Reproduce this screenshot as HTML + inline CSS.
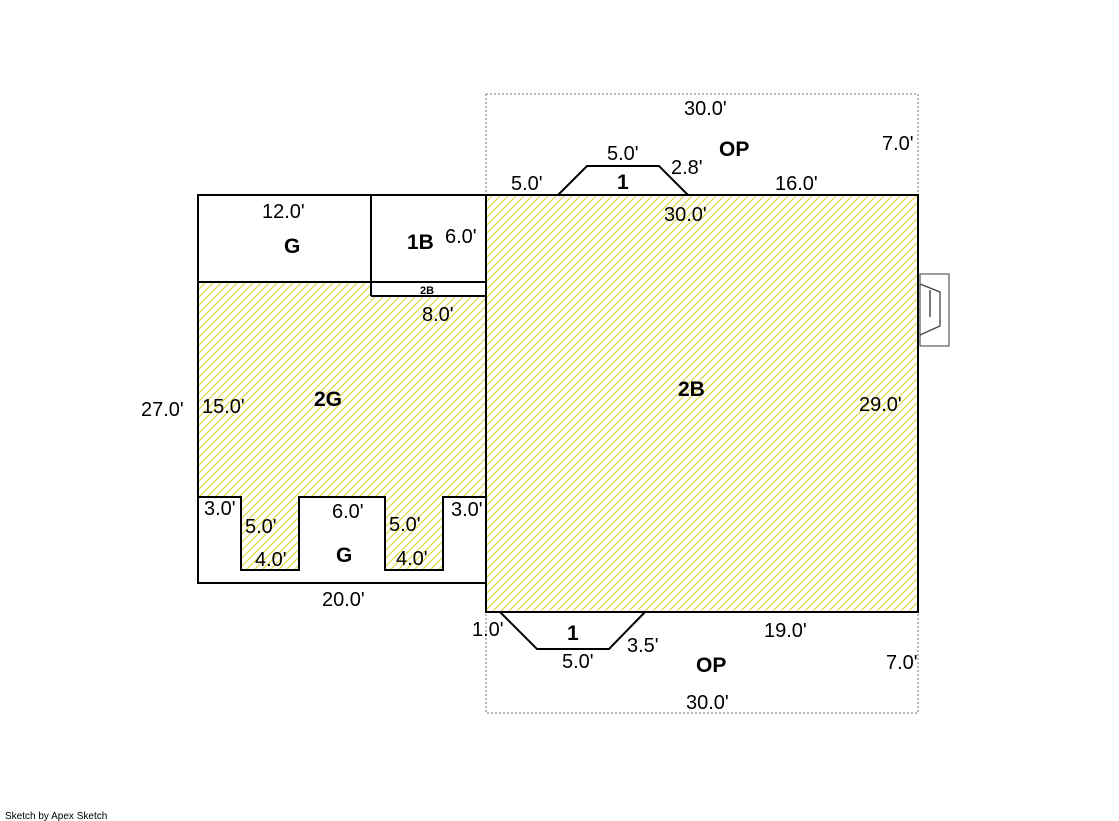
<!DOCTYPE html>
<html><head><meta charset="utf-8"><style>
html,body{margin:0;padding:0;background:#fff;}
svg{display:block;font-family:"Liberation Sans",Arial,sans-serif;}
</style></head><body>
<svg width="1119" height="821" viewBox="0 0 1119 821" xmlns="http://www.w3.org/2000/svg">
<defs>
<pattern id="h" patternUnits="userSpaceOnUse" width="8" height="8">
<path d="M-1,9 L9,-1 M-1,1 L1,-1 M7,9 L9,7" stroke="#e4d84e" stroke-width="1.3" fill="none"/>
</pattern>
</defs>
<rect x="486" y="94" width="432" height="619" fill="none" stroke="#777" stroke-width="1" stroke-dasharray="2,2"/>
<rect x="486" y="195" width="432" height="417" fill="url(#h)"/>
<polygon points="198,282 371,282 371,296 486,296 486,497 443,497 443,570 385,570 385,497 299,497 299,570 241,570 241,497 198,497" fill="url(#h)"/>
<g fill="none" stroke="#000" stroke-width="2">
<rect x="486" y="195" width="432" height="417"/>
<polyline points="486,195 198,195 198,583 486,583"/>
<line x1="198" y1="282" x2="486" y2="282"/>
<line x1="371" y1="195" x2="371" y2="296"/>
<line x1="371" y1="296" x2="486" y2="296"/>
<polyline points="198,497 241,497 241,570 299,570 299,497 385,497 385,570 443,570 443,497 486,497"/>
<polyline points="558,195 587,166 659,166 688,195"/>
<polyline points="500,612 537,649 609,649 645,612"/>
</g>
<rect x="920" y="274" width="29" height="72" fill="none" stroke="#666" stroke-width="1.3"/>
<polyline points="920,284 940,292 940,326 920,335" fill="none" stroke="#444" stroke-width="1.3"/>
<line x1="930" y1="290" x2="930" y2="317" stroke="#333" stroke-width="1.3"/>
<g font-size="20" fill="#000">
<text x="684" y="115">30.0'</text>
<text x="882" y="150">7.0'</text>
<text x="607" y="160">5.0'</text>
<text x="671" y="174">2.8'</text>
<text x="511" y="190">5.0'</text>
<text x="775" y="190">16.0'</text>
<text x="664" y="221">30.0'</text>
<text x="262" y="218">12.0'</text>
<text x="445" y="243">6.0'</text>
<text x="422" y="321">8.0'</text>
<text x="141" y="416">27.0'</text>
<text x="202" y="413">15.0'</text>
<text x="859" y="411">29.0'</text>
<text x="204" y="515">3.0'</text>
<text x="245" y="533">5.0'</text>
<text x="255" y="566">4.0'</text>
<text x="332" y="518">6.0'</text>
<text x="389" y="531">5.0'</text>
<text x="396" y="565">4.0'</text>
<text x="451" y="516">3.0'</text>
<text x="322" y="606">20.0'</text>
<text x="472" y="636">1.0'</text>
<text x="764" y="637">19.0'</text>
<text x="627" y="652">3.5'</text>
<text x="562" y="668">5.0'</text>
<text x="886" y="669">7.0'</text>
<text x="686" y="709">30.0'</text>
</g>
<g font-size="21" font-weight="bold" fill="#000">
<text x="719" y="156">OP</text>
<text x="617" y="189">1</text>
<text x="284" y="253">G</text>
<text x="407" y="249">1B</text>
<text x="314" y="406">2G</text>
<text x="678" y="396">2B</text>
<text x="336" y="562">G</text>
<text x="567" y="640">1</text>
<text x="696" y="672">OP</text>
</g>
<text x="420" y="294" font-size="11" font-weight="bold">2B</text>
<text x="5" y="819" font-size="10">Sketch by Apex Sketch</text>
</svg>
</body></html>
